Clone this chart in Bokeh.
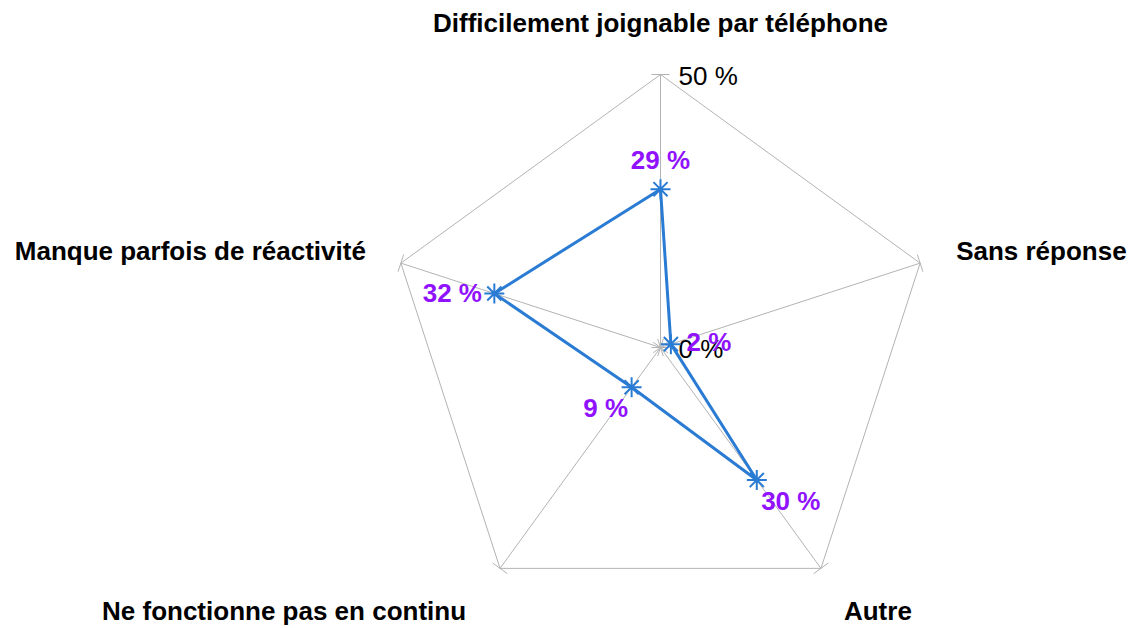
import math
from bokeh.plotting import figure
from bokeh.models import Range1d
from bokeh.core.properties import value
from bokeh.embed import file_html
from bokeh.resources import INLINE

categories = ["Difficilement joignable par téléphone", "Sans réponse", "Autre",
              "Ne fonctionne pas en continu", "Manque parfois de réactivité"]
values = [29, 2, 30, 9, 32]
axis_max = 50
axis_ticks = [0, 50]
axis_tick_labels = ["0 %", "50 %"]
value_labels = ["29 %", "2 %", "30 %", "9 %", "32 %"]

W, H = 1128, 628
CX, CY = 660, 347           # center in screen px
R = 273                     # radius px for axis_max
S = R / axis_max            # px per unit

p = figure(width=W, height=H, output_backend="svg", toolbar_location=None,
           x_range=Range1d(-CX / S, (W - CX) / S),
           y_range=Range1d(-(H - CY) / S, CY / S), min_border=0)
p.axis.visible = False
p.grid.visible = False
p.outline_line_color = None
p.background_fill_color = "white"
p.border_fill_color = "white"

n = len(categories)
ang = [math.pi / 2 - i * 2 * math.pi / n for i in range(n)]

grey = "#b3b3b3"
# outer pentagon
vx = [axis_max * math.cos(a) for a in ang]
vy = [axis_max * math.sin(a) for a in ang]
p.line(vx + [vx[0]], vy + [vy[0]], line_color=grey, line_width=1)
# spokes
p.segment([0] * n, [0] * n, vx, vy, line_color=grey, line_width=1)
# tick marks (perpendicular) at center and vertices
th = 9 / S
tx0, ty0, tx1, ty1 = [], [], [], []
for a in ang:
    px, py = -math.sin(a), math.cos(a)
    for r in axis_ticks:
        bx, by = r * math.cos(a), r * math.sin(a)
        tx0.append(bx - px * th); ty0.append(by - py * th)
        tx1.append(bx + px * th); ty1.append(by + py * th)
p.segment(tx0, ty0, tx1, ty1, line_color=grey, line_width=1)

# axis labels
p.text([r * math.cos(ang[0]) for r in axis_ticks], [r * math.sin(ang[0]) for r in axis_ticks],
       text=axis_tick_labels, x_offset=18, y_offset=1, text_align="left", text_baseline="middle",
       text_font=value("Liberation Sans"), text_font_size="26px", text_color="black")

# category labels
cat_off = [(0, -52, "center"), (36, -12, "left"), (23, 43, "left"), (-34, 43, "right"), (-35, -12, "right")]
for i, c in enumerate(categories):
    p.text([vx[i]], [vy[i]], text=[c], x_offset=cat_off[i][0], y_offset=cat_off[i][1],
           text_align=cat_off[i][2], text_baseline="middle",
           text_font=value("Liberation Sans"), text_font_style="bold",
           text_font_size="26px", text_color="black")

# data series
blue = "#2a7bd3"
dx = [v * math.cos(a) for v, a in zip(values, ang)]
dy = [v * math.sin(a) for v, a in zip(values, ang)]
p.line(dx + [dx[0]], dy + [dy[0]], line_color=blue, line_width=3)
p.scatter(dx, dy, marker="asterisk", size=20, line_color=blue, line_width=2)

purple = "#9012fe"
lab_off = [(0, -29), (38, -2), (34, 21), (-26, 21), (-42, -1)]
for i in range(n):
    p.text([dx[i]], [dy[i]], text=[value_labels[i]], x_offset=lab_off[i][0], y_offset=lab_off[i][1],
           text_align="center", text_baseline="middle",
           text_font=value("Liberation Sans"), text_font_style="bold",
           text_font_size="26px", text_color=purple)

open("out.html", "w").write(file_html(p, INLINE))
